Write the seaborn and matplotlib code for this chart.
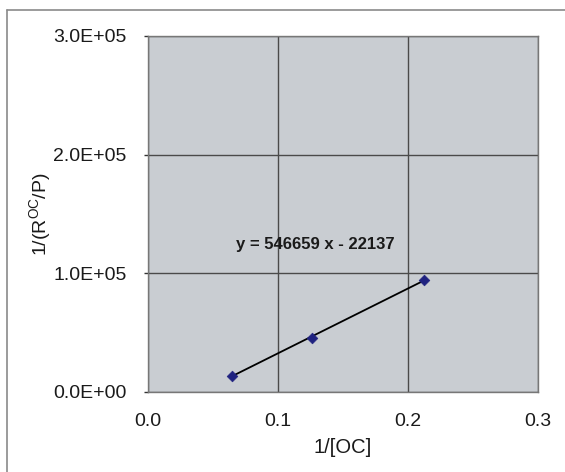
import numpy as np
import pandas as pd
import matplotlib
matplotlib.use("Agg")
import matplotlib.pyplot as plt
from matplotlib.lines import Line2D
import seaborn as sns

# Lineweaver-Burk style data
inv_oc = [0.065, 0.126, 0.212]          # 1/[OC]
inv_rate = [13800, 45500, 94000]         # 1/(R^OC/P)
slope = 546659
intercept = -22137
x_ticks = [0.0, 0.1, 0.2, 0.3]
x_tick_labels = ["0.0", "0.1", "0.2", "0.3"]
y_ticks = [0, 100000, 200000, 300000]
y_tick_labels = ["0.0E+00", "1.0E+05", "2.0E+05", "3.0E+05"]

sns.set_style("white")
plt.rcParams["font.family"] = ["Liberation Sans", "DejaVu Sans"]
plt.rcParams["mathtext.fontset"] = "custom"
plt.rcParams["mathtext.rm"] = "Liberation Sans"
plt.rcParams["mathtext.it"] = "Liberation Sans:italic"

df = pd.DataFrame({"x": inv_oc, "y": inv_rate})
trend_x = [min(inv_oc), max(inv_oc)]
trend = pd.DataFrame({"x": trend_x, "y": [slope * v + intercept for v in trend_x]})

fig = plt.figure(figsize=(5.65, 4.72), dpi=100)
fig.patch.set_facecolor("white")
ax = fig.add_axes([147.7 / 565, 1 - 392 / 472, (538 - 147.7) / 565, (392 - 36) / 472])
ax.set_facecolor("#c9cdd2")

sns.lineplot(data=trend, x="x", y="y", ax=ax, color="black", linewidth=1.3, zorder=3)
sns.scatterplot(data=df, x="x", y="y", ax=ax, marker="D", s=30, color="#1f2280",
                edgecolor="#1f2280", zorder=4)

ax.set_xlim(0, 0.3)
ax.set_ylim(0, 300000)
ax.set_xticks(x_ticks)
ax.set_xticklabels(x_tick_labels)
ax.set_yticks(y_ticks)
ax.set_yticklabels(y_tick_labels)
ax.tick_params(axis="both", labelsize=14, colors="#333333", labelcolor="#1a1a1a")
ax.tick_params(axis="x", length=0, pad=15)
ax.tick_params(axis="y", direction="out", length=3, width=1, pad=12, left=True)
ax.grid(True, color="#4a4a4a", linewidth=1.0)
ax.set_axisbelow(True)
for s in ax.spines.values():
    s.set_color("#777777")
    s.set_linewidth(1.0)

ax.set_xlabel("1/[OC]", fontsize=14.5, color="#1a1a1a", labelpad=6)
ax.set_ylabel(r"1/(R$^{\mathrm{OC}}$/P)", fontsize=14, color="#1a1a1a", labelpad=0)

ax.text(0.1287, 124000, f"y = {slope} x - {abs(intercept)}", ha="center", va="center",
        fontsize=12, fontweight="bold", color="#1a1a1a", zorder=5)

# chart frame (left and top edges)
fig.add_artist(Line2D([7 / 565, 7 / 565], [0, 1 - 10 / 472], transform=fig.transFigure,
                      color="#8a8a8a", linewidth=1.2))
fig.add_artist(Line2D([7 / 565, 1], [1 - 10 / 472, 1 - 10 / 472], transform=fig.transFigure,
                      color="#8a8a8a", linewidth=1.2))

fig.savefig("out.png", dpi=100)
